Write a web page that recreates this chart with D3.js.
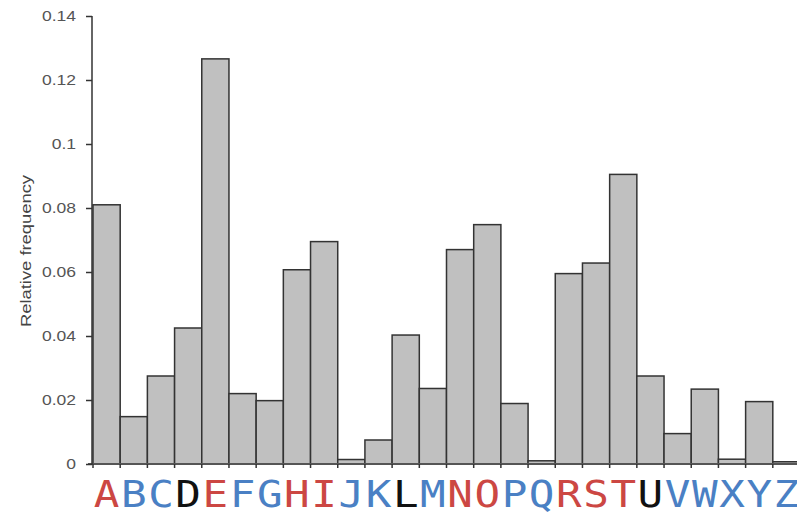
<!DOCTYPE html>
<html><head><meta charset="utf-8">
<script src="https://cdn.jsdelivr.net/npm/d3@7"></script>
<style>body{margin:0;background:#fff}svg{display:block}</style>
</head><body>
<script>
const letters = ["A","B","C","D","E","F","G","H","I","J","K","L","M","N","O","P","Q","R","S","T","U","V","W","X","Y","Z"];
const frequencies = [0.081,0.0148,0.0275,0.0425,0.1266,0.022,0.0198,0.0607,0.0695,0.0014,0.0075,0.0403,0.0236,0.067,0.0748,0.0189,0.001,0.0595,0.0628,0.0905,0.0275,0.0095,0.0234,0.0015,0.0195,0.0007];
const letterGroups = ["r","b","b","k","r","b","b","r","r","b","b","k","b","r","r","b","b","r","r","r","k","b","b","b","b","b"];
const yTicks = [0,0.02,0.04,0.06,0.08,0.1,0.12,0.14];
const yTickLabels = ["0","0.02","0.04","0.06","0.08","0.1","0.12","0.14"];
const groupColor = {r:"#cc4743", b:"#4a80c4", k:"#111111"};

const W=797,H=517;
const svg=d3.select("body").append("svg").attr("width",W).attr("height",H);
const x=d3.scaleBand().domain(letters).range([93,800]).padding(0);
const y=d3.scaleLinear().domain([0,0.14]).range([464,16]);

// bars
svg.append("g").selectAll("rect").data(letters).join("rect")
  .attr("x",d=>x(d)).attr("width",x.bandwidth())
  .attr("y",(d,i)=>y(frequencies[i])).attr("height",(d,i)=>y(0)-y(frequencies[i]))
  .attr("fill","#c0c0c0").attr("stroke","#333").attr("stroke-width",1.5);

// x baseline + ticks at bar edges
const xg=svg.append("g");
xg.append("line").attr("x1",88).attr("x2",800).attr("y1",y(0)).attr("y2",y(0)).attr("stroke","#555").attr("stroke-width",2);
xg.selectAll("line.t").data(letters).join("line").attr("class","t")
  .attr("x1",d=>x(d)).attr("x2",d=>x(d)).attr("y1",y(0)).attr("y2",y(0)+4)
  .attr("stroke","#333").attr("stroke-width",1.5);

// y axis
const yAxis=d3.axisLeft(y).tickValues(yTicks).tickFormat((d,i)=>yTickLabels[i]).tickSize(6).tickPadding(10);
const yg=svg.append("g").attr("transform","translate(92,0)").call(yAxis);
yg.select(".domain").attr("stroke","#333").attr("stroke-width",1.5).attr("d","M0,16V464");
yg.selectAll(".tick line").attr("stroke","#333").attr("stroke-width",1.5);
yg.selectAll(".tick text").attr("fill","#555").style("font-family","Liberation Sans, Arial, sans-serif").style("font-size","14px")
  .each(function(){ const w=this.getComputedTextLength(); d3.select(this).attr("textLength",w*1.25).attr("lengthAdjust","spacingAndGlyphs"); });

// y label
svg.append("text").attr("transform","translate(31,251) rotate(-90)").attr("text-anchor","middle")
  .style("font-family","Liberation Sans, Arial, sans-serif").style("font-size","15px").attr("fill","#444")
  .attr("textLength",152).attr("lengthAdjust","spacingAndGlyphs")
  .text("Relative frequency");

// letters
svg.append("g").selectAll("text").data(letters).join("text")
  .attr("x",d=>x(d)+x.bandwidth()/2).attr("y",507).attr("text-anchor","middle")
  .style("font-family","DejaVu Sans Mono, monospace").style("font-size","38px")
  .attr("fill",(d,i)=>groupColor[letterGroups[i]]).text(d=>d)
  .each(function(){ const w=this.getComputedTextLength(); d3.select(this).attr("textLength",w*1.12).attr("lengthAdjust","spacingAndGlyphs"); });
</script>
</body></html>
